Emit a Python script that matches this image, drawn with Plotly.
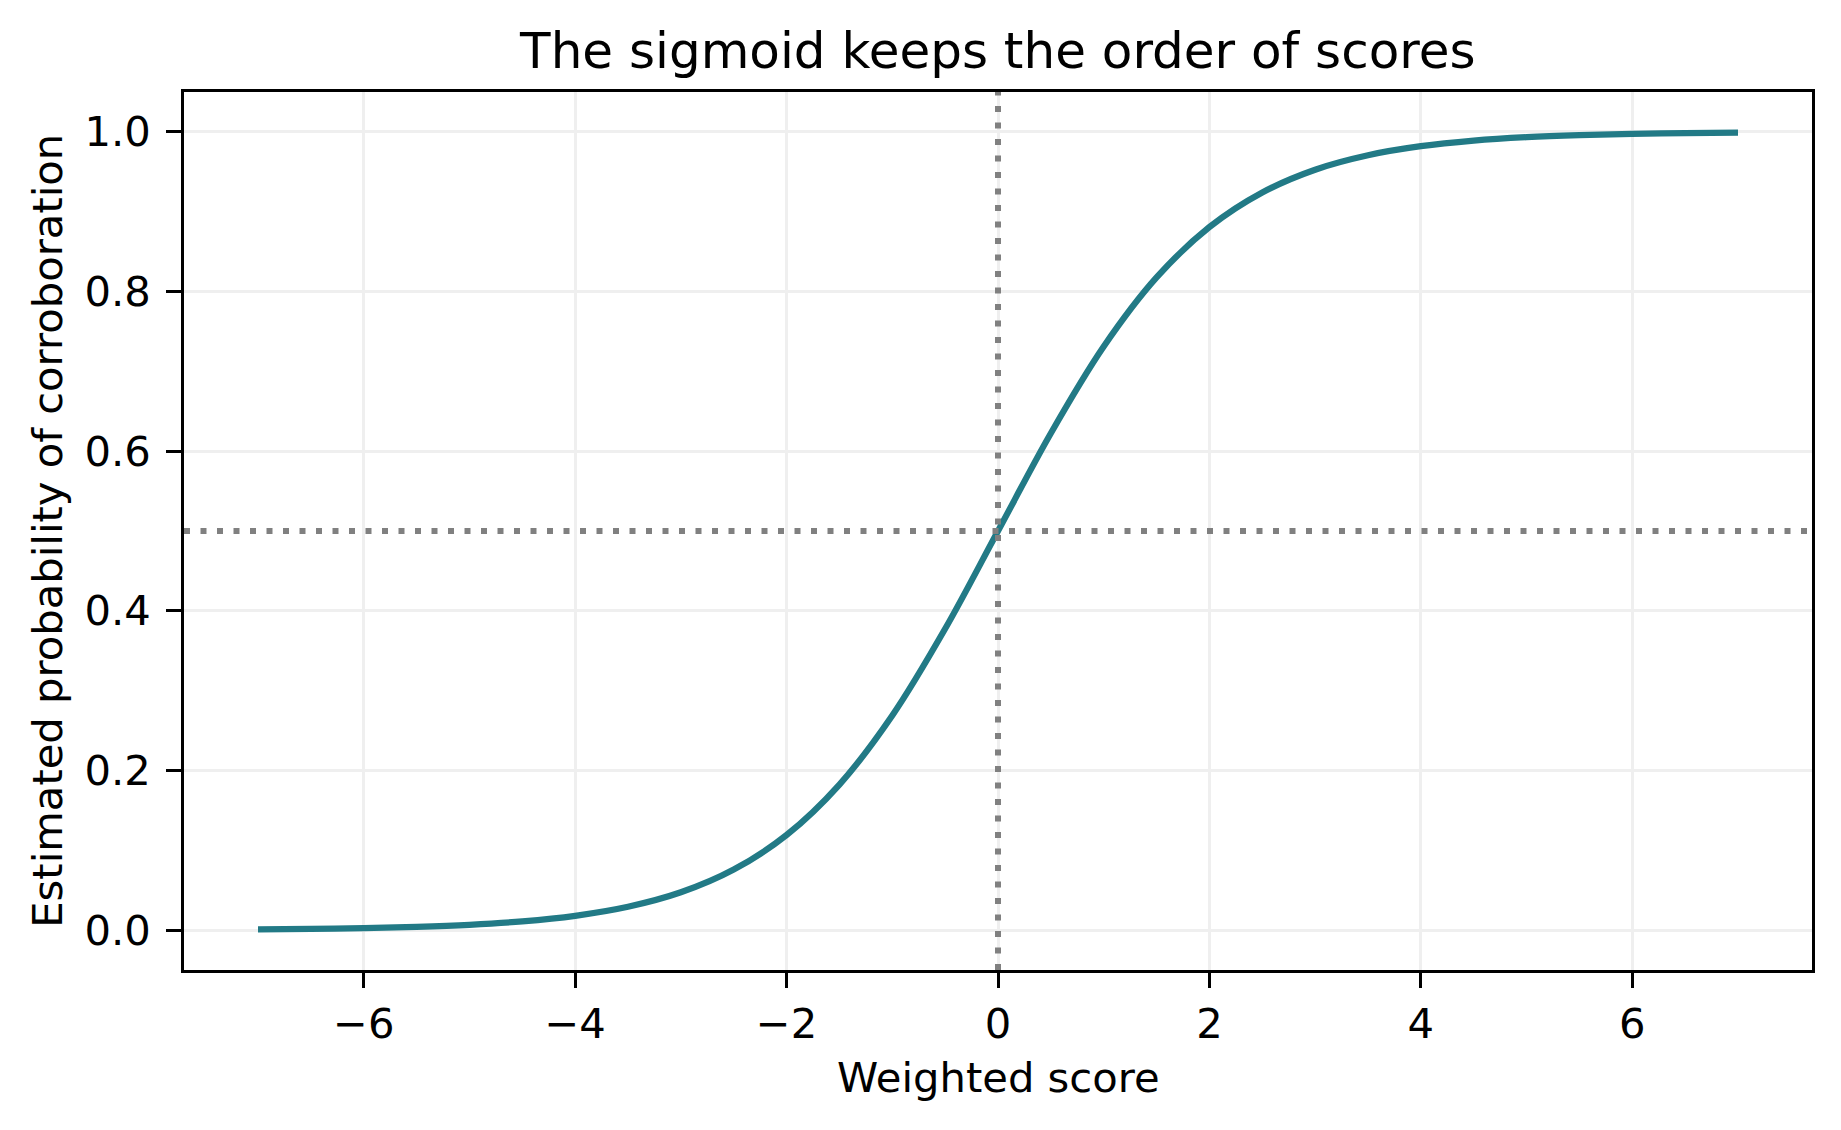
"""Sigmoid curve: estimated probability vs weighted score."""

import plotly.graph_objects as go

# values
scores = [-7.0, -6.5, -6.0, -5.5, -5.0, -4.5, -4.0, -3.5, -3.0, -2.5, -2.0,
          -1.5, -1.0, -0.5, 0.0, 0.5, 1.0, 1.5, 2.0, 2.5, 3.0, 3.5, 4.0,
          4.5, 5.0, 5.5, 6.0, 6.5, 7.0]
probs = [0.0009, 0.0015, 0.0025, 0.0041, 0.0067, 0.0110, 0.0180, 0.0293,
         0.0474, 0.0759, 0.1192, 0.1824, 0.2689, 0.3775, 0.5000, 0.6225,
         0.7311, 0.8176, 0.8808, 0.9241, 0.9526, 0.9707, 0.9820, 0.9890,
         0.9933, 0.9959, 0.9975, 0.9985, 0.9991]

threshold_x = 0.0
threshold_y = 0.5
x_ticks = [-6, -4, -2, 0, 2, 4, 6]
y_ticks = [0.0, 0.2, 0.4, 0.6, 0.8, 1.0]

FONT = "DejaVu Sans"
TEAL = "#227a86"
GRAY = "#808080"

fig = go.Figure()
fig.add_trace(go.Scatter(
    x=scores, y=probs, mode="lines",
    line=dict(color=TEAL, width=6.25, shape="spline", smoothing=1.0),
    showlegend=False,
))

# dotted reference lines drawn above the curve, like the original
dot = dict(color=GRAY, width=6, dash="6px,10.5px")
fig.add_shape(type="line", xref="x", yref="paper", x0=threshold_x, x1=threshold_x,
              y0=0, y1=1, line=dot, layer="above")
fig.add_shape(type="line", xref="paper", yref="y", x0=0, x1=1,
              y0=threshold_y, y1=threshold_y, line=dot, layer="above")

axis_common = dict(
    showline=True, mirror=True, linecolor="black", linewidth=3.3,
    ticks="outside", ticklen=14.6, tickwidth=3.3, tickcolor="black",
    showgrid=True, gridcolor="#efefef", gridwidth=3,
    zeroline=False,
    tickfont=dict(family=FONT, size=41.7, color="black"),
)

fig.update_xaxes(range=[-7.7, 7.7], tickvals=x_ticks, ticklabelstandoff=0,
                 **axis_common)
fig.update_yaxes(range=[-0.0499, 1.0499], tickvals=y_ticks, tickformat=".1f",
                 ticklabelstandoff=7, **axis_common)

fig.add_annotation(text="Weighted score", xref="paper", yref="paper",
                   x=0.5, y=-0.1219, xanchor="center", yanchor="middle",
                   showarrow=False, font=dict(family=FONT, size=41.7, color="black"))
fig.add_annotation(text="Estimated probability of corroboration", xref="paper",
                   yref="paper", x=-0.0843, y=0.5, xanchor="center",
                   yanchor="middle", textangle=-90, showarrow=False,
                   font=dict(family=FONT, size=41.7, color="black"))

# page body has an 8px margin, so the figure is a little smaller than the window
fig.update_layout(
    width=1833, height=1122,
    margin=dict(l=176, r=29, t=84, b=160),
    title=dict(text="The sigmoid keeps the order of scores", x=0.540,
               xanchor="center", y=0.9621, yanchor="middle", yref="container",
               font=dict(family=FONT, size=50, color="black")),
    plot_bgcolor="white", paper_bgcolor="white",
)

fig.write_html("out.html")
